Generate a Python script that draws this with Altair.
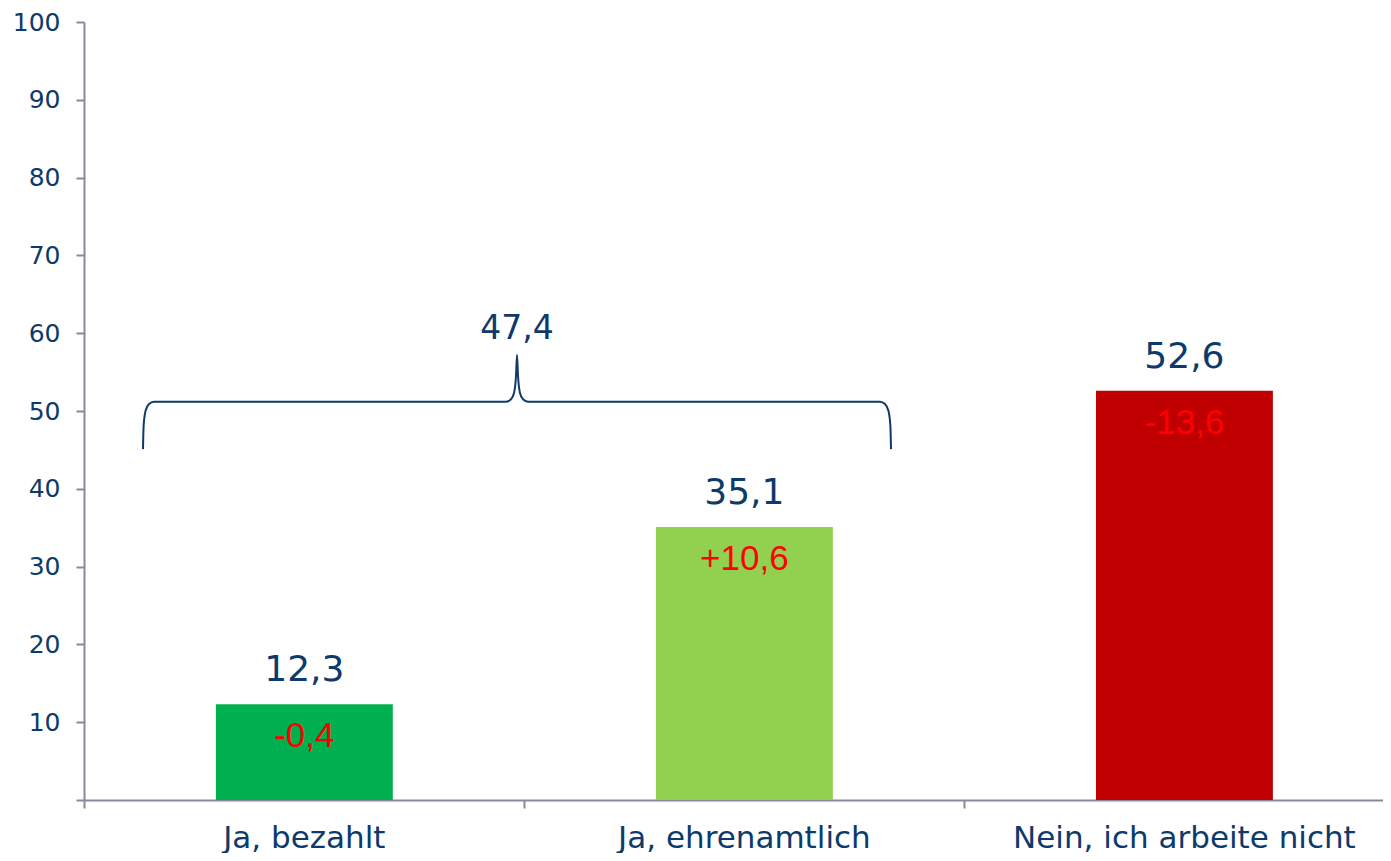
import altair as alt
import pandas as pd

categories = ["Ja, bezahlt", "Ja, ehrenamtlich", "Nein, ich arbeite nicht"]
values = [12.3, 35.1, 52.6]
value_labels = ["12,3", "35,1", "52,6"]
change_labels = ["-0,4", "+10,6", "-13,6"]
bar_colors = ["#00B050", "#92D050", "#C00000"]

# curly brace over the first two categories (x in category-width units, y in %)
brace_x = [0.1341, 0.1355, 0.1398, 0.1477, 0.1591, 0.9591, 0.9705, 0.9773, 0.9818, 0.9841,
           0.9864, 0.9909, 0.9977, 1.0091, 1.8091, 1.8205, 1.8284, 1.8327, 1.8341]
brace_y = [45.1, 48.1, 50.0, 50.9, 51.2, 51.2, 51.5, 52.3, 54.5, 57.2,
           54.5, 52.3, 51.5, 51.2, 51.2, 50.9, 50.0, 48.1, 45.1]
brace_label = ["47,4"]
brace_label_x = [0.984]
brace_label_y = [60.6]

NAVY = "#0d3a6b"
GREY = "#878a9a"
W, H = 1299, 778
STEP = 440.0

bars_df = pd.DataFrame({"cat": categories, "val": values, "vlab": value_labels,
                        "clab": change_labels, "color": bar_colors})
brace_df = pd.DataFrame({"bx": brace_x, "by": brace_y, "order": list(range(len(brace_x)))})
blab_df = pd.DataFrame({"bx": brace_label_x, "by": brace_label_y, "t": brace_label})

yscale = alt.Scale(domain=[0, 100], nice=False)
yaxis = alt.Axis(values=list(range(0, 101, 10)), grid=False, title=None,
                 labelFontSize=25, labelColor=NAVY, labelFont="DejaVu Sans",
                 labelExpr="datum.value == 0 ? '' : datum.label",
                 tickSize=8, tickWidth=2, tickColor=GREY, domainColor=GREY, domainWidth=2,
                 labelPadding=16)

xband = alt.X("cat:N", sort=categories, title=None,
              scale=alt.Scale(paddingInner=0.598, paddingOuter=0.275, align=0.545),
              axis=alt.Axis(ticks=False, domain=False, labelAngle=0, labelFontSize=31,
                            labelColor=NAVY, labelFont="DejaVu Sans", labelPadding=23,
                            labelLimit=0, orient="bottom"))

base = alt.Chart(bars_df)
bars = base.mark_bar().encode(
    x=xband,
    y=alt.Y("val:Q", scale=yscale, axis=yaxis),
    color=alt.Color("color:N", scale=None),
)
vtext = base.mark_text(baseline="middle", dy=-34, fontSize=36, font="DejaVu Sans", color=NAVY).encode(
    x=alt.X("cat:N", sort=categories), y="val:Q", text="vlab:N")
ctext = base.mark_text(baseline="middle", dy=32, fontSize=35, font="Liberation Sans", color="#FF0000").encode(
    x=alt.X("cat:N", sort=categories), y="val:Q", text="clab:N")

band_layer = alt.layer(bars, vtext, ctext)

xq_scale = alt.Scale(domain=[0, W / STEP], nice=False, zero=False)
xq_axis = alt.Axis(values=[0, 1, 2], labels=False, title=None, grid=False, orient="bottom",
                   tickSize=8, tickWidth=2, tickColor=GREY, domainColor=GREY, domainWidth=2)

brace = alt.Chart(brace_df).mark_line(color=NAVY, strokeWidth=2, interpolate="monotone").encode(
    x=alt.X("bx:Q", scale=xq_scale, axis=xq_axis),
    y=alt.Y("by:Q", scale=yscale),
    order="order:Q",
)
btext = alt.Chart(blab_df).mark_text(baseline="middle", fontSize=33, font="DejaVu Sans", color=NAVY).encode(
    x=alt.X("bx:Q", scale=xq_scale),
    y=alt.Y("by:Q", scale=yscale),
    text="t:N",
)
q_layer = alt.layer(brace, btext)

chart = alt.layer(band_layer, q_layer).resolve_scale(x="independent").resolve_axis(x="independent").properties(
    width=W, height=H,
    background="white",
    autosize=alt.AutoSizeParams(type="none"),
    padding={"left": 76, "top": 14, "right": 0, "bottom": 53},
).configure_view(stroke=None)

chart.save("out.html", embed_options={"renderer": "svg", "actions": False})
